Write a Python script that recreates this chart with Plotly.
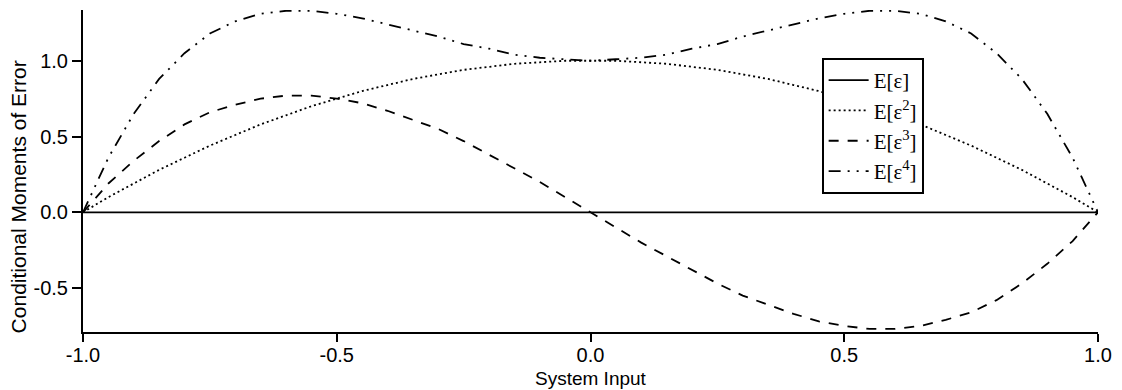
import plotly.graph_objects as go

# ---- data ----
x_input = [-1.00, -0.95, -0.90, -0.85, -0.80, -0.75, -0.70, -0.65, -0.60, -0.55,
           -0.50, -0.45, -0.40, -0.35, -0.30, -0.25, -0.20, -0.15, -0.10, -0.05,
           0.00, 0.05, 0.10, 0.15, 0.20, 0.25, 0.30, 0.35, 0.40, 0.45,
           0.50, 0.55, 0.60, 0.65, 0.70, 0.75, 0.80, 0.85, 0.90, 0.95, 1.00]

m1 = [0.00] * 41

m2 = [0.00, 0.10, 0.19, 0.28, 0.36, 0.44, 0.51, 0.58, 0.64, 0.70,
      0.75, 0.80, 0.84, 0.88, 0.91, 0.94, 0.96, 0.98, 0.99, 1.00,
      1.00, 1.00, 0.99, 0.98, 0.96, 0.94, 0.91, 0.88, 0.84, 0.80,
      0.75, 0.70, 0.64, 0.58, 0.51, 0.44, 0.36, 0.28, 0.19, 0.10, 0.00]

m3 = [0.00, 0.19, 0.34, 0.47, 0.58, 0.66, 0.71, 0.75, 0.77, 0.77,
      0.75, 0.72, 0.67, 0.61, 0.55, 0.47, 0.38, 0.29, 0.20, 0.10,
      0.00, -0.10, -0.20, -0.29, -0.38, -0.47, -0.55, -0.61, -0.67, -0.72,
      -0.75, -0.77, -0.77, -0.75, -0.71, -0.66, -0.58, -0.47, -0.34, -0.19, 0.00]

m4 = [0.00, 0.36, 0.65, 0.88, 1.05, 1.18, 1.26, 1.31, 1.33, 1.33,
      1.31, 1.28, 1.24, 1.20, 1.16, 1.11, 1.08, 1.04, 1.02, 1.01,
      1.00, 1.01, 1.02, 1.04, 1.08, 1.11, 1.16, 1.20, 1.24, 1.28,
      1.31, 1.33, 1.33, 1.31, 1.26, 1.18, 1.05, 0.88, 0.65, 0.36, 0.00]

series_names = ["E[ε]", "E[ε<sup>2</sup>]", "E[ε<sup>3</sup>]", "E[ε<sup>4</sup>]"]
series_values = [m1, m2, m3, m4]
series_dash = ["solid", "2px,3px", "10px,9px", "12px,7px,2px,7px,2px,7px"]

x_tickvals = [-1.0, -0.5, 0.0, 0.5, 1.0]
x_ticktext = ["-1.0", "-0.5", "0.0", "0.5", "1.0"]
y_tickvals = [-0.5, 0.0, 0.5, 1.0]
y_ticktext = ["-0.5", "0.0", "0.5", "1.0"]

x_title = "System Input"
y_title = "Conditional Moments of Error"

# ---- figure ----
fig = go.Figure()
for name, vals, dash in zip(series_names, series_values, series_dash):
    fig.add_trace(go.Scatter(
        x=x_input, y=vals, mode="lines", name=name,
        line=dict(color="black", width=1.8, dash=dash),
    ))

W, H = 1122, 390
ml, mr, mt, mb = 83, 18, 10, 58
pw, ph = W - ml - mr, H - mt - mb

def px_to_paper_x(px):
    return (px - ml) / pw

def px_to_paper_y(py):
    return (H - mb - py) / ph

sans = "Liberation Sans, Arial, sans-serif"
serif = "Liberation Serif, Times New Roman, serif"

fig.update_layout(
    width=W, height=H,
    margin=dict(l=ml, r=mr, t=mt, b=mb, pad=0),
    paper_bgcolor="white", plot_bgcolor="white",
    font=dict(family=sans, size=20, color="black"),
    showlegend=True,
    legend=dict(
        x=px_to_paper_x(826), y=px_to_paper_y(58),
        xanchor="left", yanchor="top",
        bgcolor="white", bordercolor="black", borderwidth=2,
        font=dict(family=serif, size=21, color="black"),
        tracegroupgap=0, itemwidth=40,
    ),
    xaxis=dict(
        range=[-1.0, 1.0], showgrid=False, zeroline=False,
        showline=True, linecolor="black", linewidth=2,
        ticks="outside", ticklen=8, tickwidth=2, tickcolor="black",
        tickvals=x_tickvals, ticktext=x_ticktext,
        tickfont=dict(family=sans, size=20, color="black"),
        ticklabelstandoff=-4,
    ),
    yaxis=dict(
        range=[-0.79, 1.335], showgrid=False, zeroline=False,
        showline=True, linecolor="black", linewidth=2,
        ticks="outside", ticklen=9, tickwidth=2, tickcolor="black",
        tickvals=y_tickvals, ticktext=y_ticktext,
        tickfont=dict(family=sans, size=20, color="black"),
    ),
    annotations=[
        dict(text=x_title, xref="paper", yref="paper",
             x=0.5, y=px_to_paper_y(378), xanchor="center", yanchor="middle",
             showarrow=False, font=dict(family=sans, size=19, color="black")),
        dict(text=y_title, xref="paper", yref="paper", textangle=-90,
             x=px_to_paper_x(18), y=px_to_paper_y(197),
             xanchor="center", yanchor="middle",
             showarrow=False, font=dict(family=sans, size=21, color="black")),
    ],
)

fig.write_html(
    "out.html",
    config={"displayModeBar": False},
    post_script="document.body.style.margin='0px';document.body.style.overflow='hidden';",
)
